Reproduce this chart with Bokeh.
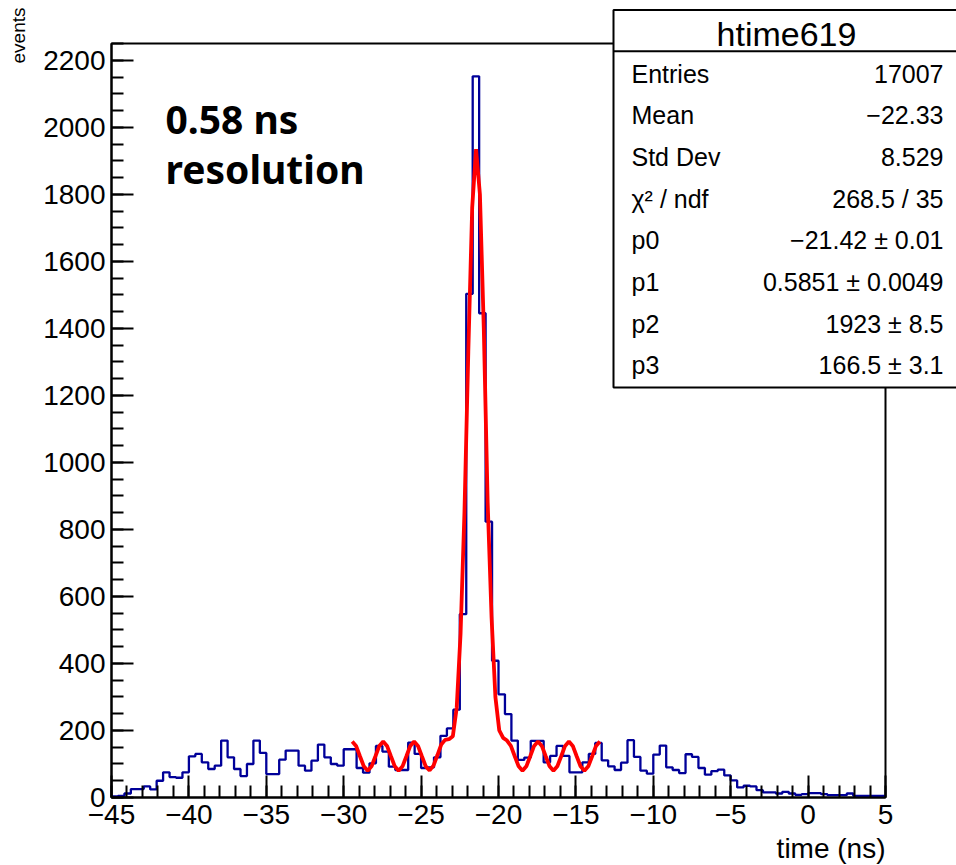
import numpy as np
from bokeh.plotting import figure
from bokeh.models import Range1d, FixedTicker
from bokeh.core.properties import value
from bokeh.embed import file_html
from bokeh.resources import INLINE

# ---------------- data ----------------
x_min, x_max, n_bins = -45.0, 5.0, 120
y_lo, y_hi = 0.0, 2250.0

counts = [
    3, 5, 12, 25, 25, 33, 24, 50, 75, 61,
    59, 75, 123, 130, 105, 85, 95, 170, 120, 85,
    64, 100, 170, 133, 70, 70, 113, 140, 140, 95,
    80, 110, 158, 120, 100, 95, 144, 144, 88, 74,
    102, 154, 137, 92, 82, 82, 164, 130, 88, 90,
    120, 184, 206, 262, 547, 1503, 2152, 1445, 823, 408,
    308, 249, 170, 112, 119, 169, 169, 105, 124, 154,
    124, 75, 75, 105, 130, 163, 111, 93, 82, 104,
    171, 121, 80, 71, 128, 155, 90, 82, 73, 129,
    121, 88, 68, 79, 83, 66, 51, 30, 35, 33,
    22, 15, 15, 12, 17, 12, 8, 10, 13, 13,
    10, 7, 7, 7, 12, 5, 5, 5, 5, 5,
]

fit_x = [
    -29.45, -29.20, -28.95, -28.70, -28.45, -28.20, -27.95, -27.70,
    -27.45, -27.20, -26.95, -26.70, -26.45, -26.20, -25.95, -25.70,
    -25.45, -25.20, -24.95, -24.70, -24.45, -24.20, -23.95, -23.70,
    -23.45, -23.20, -22.95, -22.70, -22.45, -22.20, -21.95, -21.70,
    -21.45, -21.20, -20.95, -20.70, -20.45, -20.20, -19.95, -19.70,
    -19.45, -19.20, -18.95, -18.70, -18.45, -18.20, -17.95, -17.70,
    -17.45, -17.20, -16.95, -16.70, -16.45, -16.20, -15.95, -15.70,
    -15.45, -15.20, -14.95, -14.70, -14.45, -14.20, -13.95, -13.70,
    -13.45,
]
fit_y = [
    167, 154, 123, 93, 80, 93, 123, 154,
    167, 154, 123, 93, 80, 93, 123, 154,
    167, 154, 123, 93, 81, 95, 126, 158,
    172, 174, 183, 268, 490, 850, 1330, 1760,
    1935, 1800, 1400, 880, 540, 300, 200, 178,
    170, 154, 123, 93, 80, 93, 123, 154,
    167, 154, 123, 93, 80, 93, 123, 154,
    167, 154, 123, 93, 80, 93, 123, 154,
    167,
]

y_ticks = list(range(0, 2201, 200))
y_minor = list(range(0, 2251, 50))
x_ticks = list(range(-45, 6, 5))
x_minor = list(range(-45, 6, 1))

hist_name = "htime619"
stats_labels = ["Entries", "Mean", "Std Dev", "χ² / ndf", "p0", "p1", "p2", "p3"]
stats_values = ["17007", "−22.33", "8.529", "268.5 / 35",
                "−21.42 ± 0.01", "0.5851 ± 0.0049", "1923 ± 8.5", "166.5 ± 3.1"]
note_lines = ["0.58 ns", "resolution"]
x_title = "time (ns)"
y_title = "events"

# ---------------- layout ----------------
W, H = 956, 865
FL, FR, FT, FB = 111, 885, 43, 797
FONT = "Liberation Sans"


def dx(px):
    return x_min + (px - FL) / (FR - FL) * (x_max - x_min)


def dy(py):
    return y_lo + (FB - py) / (FB - FT) * (y_hi - y_lo)


p = figure(width=W, height=H, x_range=Range1d(x_min, x_max), y_range=Range1d(y_lo, y_hi),
           output_backend="svg", toolbar_location=None,
           min_border_left=FL, min_border_right=W - FR, min_border_top=FT, min_border_bottom=H - FB)
p.background_fill_color = "white"
p.border_fill_color = "white"
p.outline_line_color = "black"
p.outline_line_width = 2
p.xgrid.visible = False
p.ygrid.visible = False

for ax in (p.xaxis[0], p.yaxis[0]):
    ax.axis_line_width = 2
    ax.axis_line_color = "black"
    ax.major_tick_in = 22
    ax.major_tick_out = 0
    ax.minor_tick_in = 12
    ax.minor_tick_out = 0
    ax.major_tick_line_width = 2
    ax.minor_tick_line_width = 2
    ax.major_tick_line_color = "black"
    ax.minor_tick_line_color = "black"
    ax.major_label_text_font = FONT
    ax.major_label_text_font_size = "28px"
    ax.major_label_text_color = "black"

p.yaxis.ticker = FixedTicker(ticks=y_ticks, minor_ticks=y_minor)
p.xaxis.ticker = FixedTicker(ticks=x_ticks, minor_ticks=x_minor)
p.yaxis.major_label_standoff = 6
p.xaxis.major_label_standoff = 7
p.xaxis.major_label_overrides = {t: str(t).replace("-", "\u2212") for t in x_ticks}

# histogram
edges = np.linspace(x_min, x_max, n_bins + 1)
hy = list(counts) + [counts[-1]]
p.step(edges, hy, mode="after", line_color="#000099", line_width=2.3)

# fit
p.line(fit_x, fit_y, line_color="#ff0000", line_width=3.8)

# annotation text inside frame
p.text(x=[dx(165), dx(165)], y=[dy(117.5), dy(168)], text=note_lines,
       text_font=value("Noto Sans"), text_font_style="bold", text_font_size="39px",
       text_color="black", text_align="left", text_baseline="middle")

# axis titles (outside frame -> overlay level)
p.text(x=[x_max], y=[dy(848)], text=[x_title], text_font=value(FONT),
       text_font_size="28px", text_align="right", text_baseline="middle",
       text_color="black", level="overlay")
p.text(x=[dx(18)], y=[dy(63)], text=[y_title], angle=np.pi / 2, text_font=value(FONT),
       text_font_size="19px", text_align="left", text_baseline="middle",
       text_color="black", level="overlay")

# stats box
p.quad(left=[dx(613)], right=[dx(990)], top=[dy(9.5)], bottom=[dy(387)],
       fill_color="white", fill_alpha=1.0, line_color="black", line_width=2, level="overlay")
p.segment(x0=[dx(613)], x1=[dx(990)], y0=[dy(50.7)], y1=[dy(50.7)],
          line_color="black", line_width=2, level="overlay")
p.text(x=[dx(786)], y=[dy(33)], text=[hist_name], text_font=value(FONT),
       text_font_size="34px", text_align="center", text_baseline="middle",
       text_color="black", level="overlay")
row_y = [dy(73 + i * 41.7) for i in range(len(stats_labels))]
p.text(x=[dx(631)] * len(stats_labels), y=row_y, text=stats_labels, text_font=value(FONT),
       text_font_size="25px", text_align="left", text_baseline="middle",
       text_color="black", level="overlay")
p.text(x=[dx(943)] * len(stats_values), y=row_y, text=stats_values, text_font=value(FONT),
       text_font_size="25px", text_align="right", text_baseline="middle",
       text_color="black", level="overlay")

open("out.html", "w").write(file_html(p, INLINE))
